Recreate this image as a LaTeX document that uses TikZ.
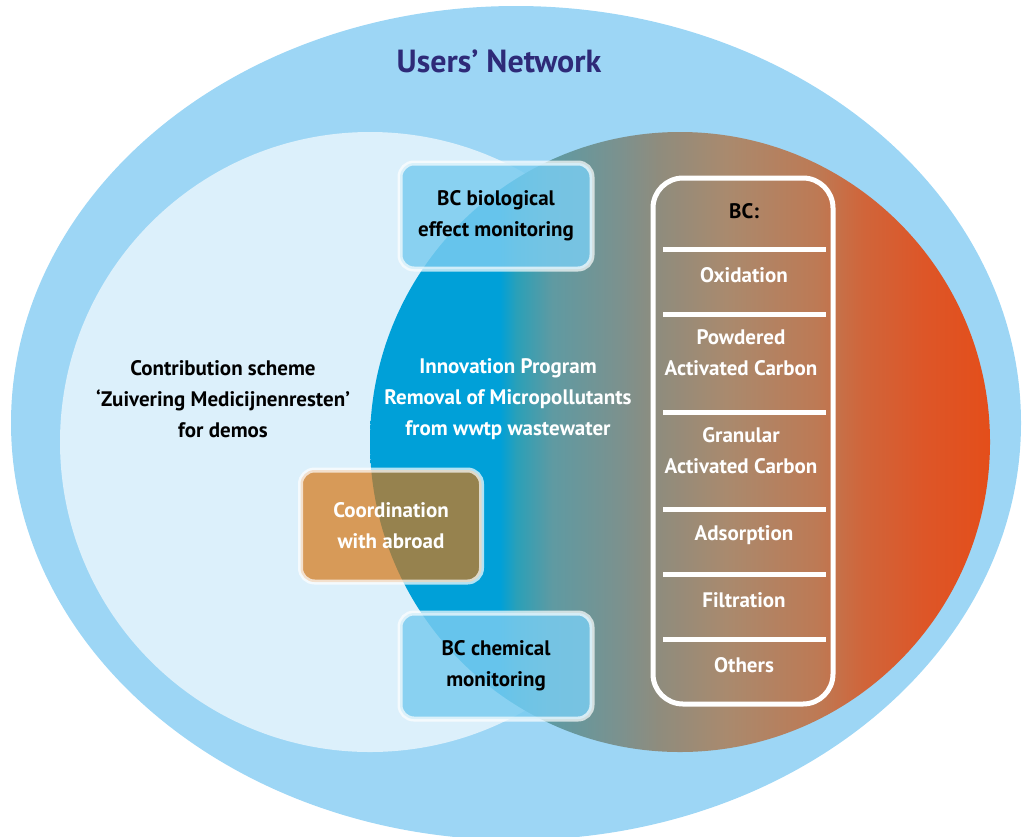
\documentclass[tikz,border=0pt]{standalone}
\usepackage{fontspec}
\setmainfont{PT Sans}

\definecolor{netblue}{RGB}{157,214,245}
\definecolor{schemeblue}{RGB}{220,240,251}
\definecolor{titleblue}{RGB}{46,42,120}
\definecolor{boxblue}{RGB}{122,204,240}
\definecolor{boxorange}{RGB}{214,118,20}
% colours of the programme circle, left to right
\definecolor{pa}{RGB}{0,160,216}
\definecolor{pb}{RGB}{42,160,184}
\definecolor{pc}{RGB}{95,154,162}
\definecolor{pd}{RGB}{125,145,141}
\definecolor{pe}{RGB}{143,140,125}
\definecolor{pf}{RGB}{169,138,110}
\definecolor{pg}{RGB}{189,122,85}
\definecolor{ph}{RGB}{208,101,58}
\definecolor{pi}{RGB}{221,86,40}
\definecolor{pj}{RGB}{228,78,26}
\pgfdeclarehorizontalshading{program}{100bp}{color(0bp)=(pa); color(25bp)=(pa);
  color(35.5bp)=(pa); color(36.8bp)=(pb); color(39.7bp)=(pc); color(45.4bp)=(pd);
  color(48.3bp)=(pe); color(53.7bp)=(pf); color(61bp)=(pg); color(64.8bp)=(ph);
  color(69.6bp)=(pi); color(75bp)=(pj); color(100bp)=(pj)}

\begin{document}
\begin{tikzpicture}[x=1pt, y=-1pt,
    txt/.style = {font=\bfseries\fontsize{21}{31}\selectfont, align=center},
    panel/.style = {txt, draw=white, draw opacity=0.7, line width=5pt, rounded corners=14pt,
      fill opacity=0.84, text opacity=1, minimum width=192pt, minimum height=106pt},
    bluebox/.style = {panel, fill=boxblue},
    orangebox/.style = {panel, fill=boxorange, fill opacity=0.7, text=white,
      minimum width=181pt, minimum height=112pt},
    sep/.style = {white, line width=5pt}]
  \useasboundingbox (0,0) rectangle (1024,836);

  % network, scheme and programme
  \fill[netblue] (516,423) ellipse [x radius=505pt, y radius=417pt];
  \fill[schemeblue] (370,442) circle [radius=310pt];
  \shade[shading=program] (680,442) circle [radius=310pt];

  \node[font=\bfseries\fontsize{32}{38}\selectfont, text=titleblue] (net) at (499,61) {Users’ Network};
  \node[txt] (scheme) at (223,399) {Contribution scheme\\‘Zuivering Medicijnenresten’\\for demos};
  \node[txt, text=white] (prog) at (508,399) {Innovation Program\\Removal of Micropollutants\\from wwtp wastewater};

  % boxes
  \node[bluebox] (bio) at (496,216) {BC biological\\effect monitoring};
  \node[orangebox] (abroad) at (391,526) {Coordination\\with abroad};
  \node[bluebox] (chem) at (496,666) {BC chemical\\monitoring};

  % list of techniques
  \node[draw=white, line width=5pt, rounded corners=30pt, minimum width=180pt,
    minimum height=526pt] (bc) at (743,441) {};
  \foreach \y in {249,314,412,509,574,639}
    \draw[sep] (663,\y) -- (826,\y);
  \node[txt] (bchead) at (744,211) {BC:};
  \node[txt, text=white] (ox) at (744,275) {Oxidation};
  \node[txt, text=white] (pac) at (741,353) {Powdered\\Activated Carbon};
  \node[txt, text=white] (gac) at (741,451) {Granular\\Activated Carbon};
  \node[txt, text=white] (ads) at (744,535) {Adsorption};
  \node[txt, text=white] (filt) at (744,600) {Filtration};
  \node[txt, text=white] (oth) at (744,665) {Others};
\end{tikzpicture}
\end{document}
